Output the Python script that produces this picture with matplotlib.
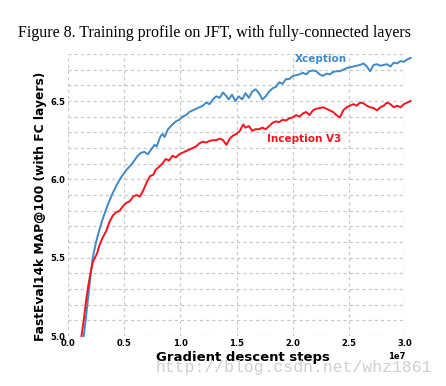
import numpy as np
import matplotlib
matplotlib.use("Agg")
import matplotlib.pyplot as plt
from matplotlib.ticker import MultipleLocator

# datos (pasos en unidades de 1e7)
xception_pasos = [0.14, 0.16, 0.18, 0.20, 0.22, 0.25, 0.28, 0.31, 0.35, 0.39, 0.43, 0.47, 0.52,
                  0.57, 0.62, 0.65, 0.68, 0.71, 0.74, 0.77, 0.79, 0.82, 0.84, 0.86, 0.89, 0.93,
                  0.96, 0.99, 1.02, 1.05, 1.08, 1.11, 1.14, 1.17, 1.20, 1.23, 1.26, 1.29, 1.32,
                  1.35, 1.38, 1.41, 1.43, 1.46, 1.49, 1.52, 1.55, 1.58, 1.61, 1.64, 1.67, 1.70,
                  1.73, 1.76, 1.79, 1.82, 1.85, 1.88, 1.91, 1.94, 1.97, 2.00, 2.03, 2.06, 2.09,
                  2.12, 2.15, 2.18, 2.21, 2.24, 2.27, 2.30, 2.33, 2.36, 2.39, 2.42, 2.45, 2.48,
                  2.51, 2.54, 2.57, 2.60, 2.63, 2.66, 2.69, 2.72, 2.75, 2.78, 2.81, 2.84, 2.87,
                  2.90, 2.93, 2.96, 2.99, 3.02, 3.05]
xception_map = [5.00, 5.12, 5.25, 5.38, 5.50, 5.60, 5.68, 5.75, 5.83, 5.90, 5.96, 6.01, 6.06,
                6.10, 6.15, 6.17, 6.175, 6.16, 6.19, 6.22, 6.21, 6.27, 6.29, 6.27, 6.32, 6.35,
                6.37, 6.38, 6.40, 6.41, 6.43, 6.44, 6.45, 6.46, 6.47, 6.49, 6.48, 6.51, 6.53,
                6.52, 6.555, 6.53, 6.51, 6.54, 6.50, 6.53, 6.51, 6.55, 6.52, 6.56, 6.575, 6.55,
                6.51, 6.53, 6.56, 6.58, 6.59, 6.62, 6.61, 6.64, 6.64, 6.66, 6.665, 6.67, 6.68,
                6.67, 6.69, 6.695, 6.69, 6.67, 6.66, 6.675, 6.67, 6.685, 6.69, 6.69, 6.70, 6.71,
                6.715, 6.72, 6.725, 6.73, 6.74, 6.72, 6.69, 6.73, 6.735, 6.725, 6.73, 6.735, 6.72,
                6.745, 6.74, 6.755, 6.75, 6.765, 6.775]

inception_pasos = [0.12, 0.14, 0.16, 0.18, 0.20, 0.22, 0.24, 0.26, 0.28, 0.31, 0.34, 0.37, 0.40,
                   0.43, 0.46, 0.49, 0.52, 0.55, 0.58, 0.61, 0.64, 0.67, 0.70, 0.73, 0.76, 0.78,
                   0.81, 0.84, 0.87, 0.90, 0.93, 0.96, 0.99, 1.02, 1.05, 1.08, 1.11, 1.14, 1.17,
                   1.20, 1.23, 1.26, 1.29, 1.32, 1.35, 1.38, 1.41, 1.44, 1.47, 1.50, 1.53, 1.56,
                   1.58, 1.61, 1.64, 1.67, 1.70, 1.73, 1.76, 1.79, 1.82, 1.85, 1.88, 1.91, 1.94,
                   1.97, 2.00, 2.03, 2.06, 2.09, 2.12, 2.15, 2.18, 2.21, 2.24, 2.27, 2.30, 2.33,
                   2.36, 2.39, 2.42, 2.45, 2.48, 2.51, 2.54, 2.57, 2.60, 2.63, 2.66, 2.69, 2.72,
                   2.75, 2.78, 2.81, 2.84, 2.87, 2.90, 2.93, 2.96, 2.99, 3.02, 3.05]
inception_map = [5.00, 5.10, 5.22, 5.32, 5.40, 5.47, 5.50, 5.53, 5.58, 5.63, 5.67, 5.73, 5.77,
                 5.79, 5.80, 5.83, 5.85, 5.86, 5.89, 5.90, 5.89, 5.93, 5.98, 6.02, 6.03, 6.06,
                 6.08, 6.10, 6.13, 6.12, 6.15, 6.14, 6.16, 6.17, 6.18, 6.19, 6.20, 6.21, 6.23,
                 6.24, 6.235, 6.245, 6.25, 6.25, 6.26, 6.25, 6.22, 6.26, 6.28, 6.29, 6.31, 6.35,
                 6.33, 6.34, 6.31, 6.32, 6.32, 6.33, 6.32, 6.34, 6.36, 6.37, 6.365, 6.38, 6.375,
                 6.39, 6.395, 6.41, 6.40, 6.42, 6.43, 6.41, 6.44, 6.45, 6.455, 6.46, 6.45, 6.44,
                 6.43, 6.41, 6.395, 6.44, 6.46, 6.47, 6.48, 6.47, 6.49, 6.485, 6.47, 6.46, 6.455,
                 6.44, 6.46, 6.47, 6.49, 6.48, 6.46, 6.47, 6.46, 6.48, 6.49, 6.50]

azul = '#3f8ac6'
rojo = '#f5141e'

fig = plt.figure(figsize=(4.46, 3.86), dpi=100)
ax = fig.add_axes([0.1525, 0.1295, 0.7556, 0.7306])

ax.plot(np.array(xception_pasos) * 1e7, xception_map, color=azul, lw=1.4, clip_on=False, zorder=3)
ax.plot(np.array(inception_pasos) * 1e7, inception_map, color=rojo, lw=1.4, clip_on=False, zorder=3)

ax.set_xlim(0, 3.0e7)
ax.set_ylim(5.0, 6.8)
ax.xaxis.set_major_locator(MultipleLocator(0.5e7))
ax.yaxis.set_major_locator(MultipleLocator(0.5))
ax.yaxis.set_minor_locator(MultipleLocator(0.1))
ax.grid(True, which='both', color='#c8c8c8', linestyle=(0, (2.5, 2.5)), linewidth=0.9)
for s in ax.spines.values():
    s.set_visible(False)
ax.tick_params(which='both', length=0, pad=2, labelsize=6)
for lab in ax.get_xticklabels() + ax.get_yticklabels():
    lab.set_fontweight('bold')
ax.xaxis.get_offset_text().set_fontsize(6)
ax.xaxis.get_offset_text().set_fontweight('bold')

ax.set_xlabel("Gradient descent steps", fontsize=9.5, fontweight='bold')
ax.xaxis.set_label_coords(0.519, -0.052)
ax.set_ylabel("FastEval14k MAP@100 (with FC layers)", fontsize=8.8, fontweight='bold')
ax.yaxis.set_label_coords(-0.083, 0.461)
ax.yaxis.label.set_va('center')

ax.text(2.255e7, 6.77, "Xception", color=azul, fontsize=7.5, fontweight='bold', ha='center', va='center')
ax.text(2.10e7, 6.26, "Inception V3", color=rojo, fontsize=7.5, fontweight='bold', ha='center', va='center')

fig.text(0.04, 0.915, "Figure 8. Training profile on JFT, with fully-connected layers",
         family='Liberation Serif', fontsize=11.5, va='center', ha='left')
fig.text(0.348, 0.049, "http://blog.csdn.net/whz1861", family='Liberation Mono', fontsize=11.8,
         color='#cfcfcf', ha='left', va='center')

fig.savefig("out.png", dpi=100)
